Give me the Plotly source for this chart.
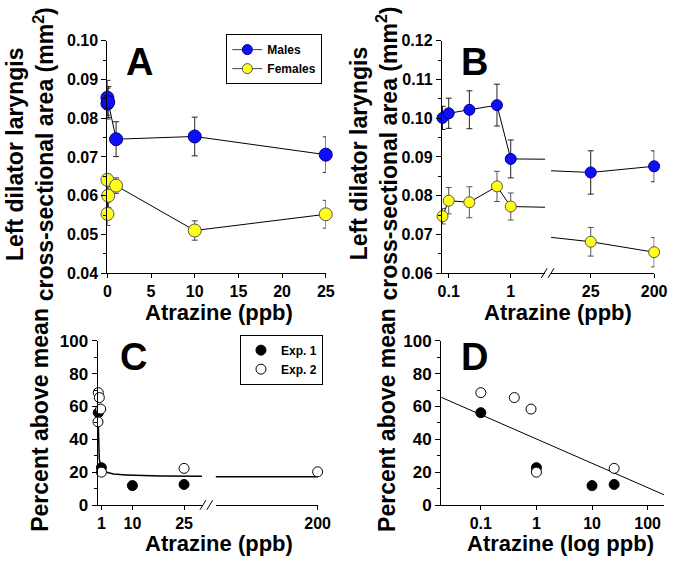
import numpy as np
import plotly.graph_objects as go

# ---------------- data ----------------
# Panel A (linear dose axis)
A_DOSE = [0, 0.01, 0.1, 1, 10, 25]
A_MALE = [0.0853, 0.0838, 0.0842, 0.0746, 0.0753, 0.0706]
A_MALE_ERR = [0.0045, 0.004, 0.004, 0.0045, 0.005, 0.0046]
A_FEMALE = [0.0641, 0.0553, 0.0600, 0.0626, 0.0510, 0.0552]
A_FEMALE_ERR = [0.0015, 0.003, 0.003, 0.002, 0.0025, 0.0036]

# Panel B (broken dose axis)
B_DOSE = [0.01, 0.1, 0.4, 0.8, 1, 25, 200]
B_MALE = [0.1001, 0.1013, 0.1022, 0.1034, 0.0895, 0.0860, 0.0876]
B_MALE_ERR = [0.003, 0.0039, 0.0049, 0.0054, 0.0049, 0.0056, 0.0040]
B_FEMALE = [0.0747, 0.0787, 0.0783, 0.0824, 0.0772, 0.0681, 0.0654]
B_FEMALE_ERR = [0.002, 0.0034, 0.0040, 0.0039, 0.0035, 0.0037, 0.0038]
B_BREAK = (1.5, 22)

# Panels C & D
EXP1_DOSE = [0.1, 1, 10, 25]
EXP1_PCT = [56.2, 22.7, 11.8, 12.5]
EXP2_DOSE = [0.01, 0.1, 0.4, 0.8, 1, 25, 200]
EXP2_PCT = [50.6, 68.4, 65.4, 58.4, 20.0, 22.3, 20.2]
C_FIT = (17.0, 5.57, 0.707)      # y = c + a * x^-p  (fitted curve)
D_FIT = (40.2, -14.8)            # y = b0 + b1 * log10(x)

# ---------------- helpers ----------------
W, H = 683, 564
FONT = "Liberation Sans, Arial, Helvetica, sans-serif"


def fx(p):
    return p / W


def fy(p):
    return 1 - p / H


BLUE = "#0d0dff"
YELLOW = "#ffff19"

fig = go.Figure()

# ---------- Panel A ----------
fig.add_trace(go.Scatter(
    x=A_DOSE, y=A_MALE, mode="lines+markers", name="Males",
    xaxis="x", yaxis="y", showlegend=False, cliponaxis=False,
    line=dict(color="black", width=1),
    marker=dict(color=BLUE, size=13, line=dict(color="#000080", width=1)),
    error_y=dict(type="data", array=A_MALE_ERR, color="#222", thickness=1, width=3)))
fig.add_trace(go.Scatter(
    x=A_DOSE, y=A_FEMALE, mode="lines+markers", name="Females",
    xaxis="x", yaxis="y", showlegend=False, cliponaxis=False,
    line=dict(color="black", width=1),
    marker=dict(color=YELLOW, size=13, line=dict(color="#555", width=1)),
    error_y=dict(type="data", array=A_FEMALE_ERR, color="#444", thickness=1, width=3)))
# legend entries (no data)
fig.add_trace(go.Scatter(x=[None], y=[None], mode="lines+markers", name="Males",
                         xaxis="x", yaxis="y", legend="legend",
                         line=dict(color="#444", width=1),
                         marker=dict(color=BLUE, size=10, line=dict(color="#000080", width=1))))
fig.add_trace(go.Scatter(x=[None], y=[None], mode="lines+markers", name="Females",
                         xaxis="x", yaxis="y", legend="legend",
                         line=dict(color="#444", width=1),
                         marker=dict(color=YELLOW, size=10, line=dict(color="#555", width=1))))

# ---------- Panel B ----------
B_LEFT_RANGE = [0, B_BREAK[0]]
B_RIGHT_RANGE = [-84.6, 200.8]
lo = [i for i, d in enumerate(B_DOSE) if d <= 1]
hi = [i for i, d in enumerate(B_DOSE) if d > 1]


def interp(vals, at):
    i0, i1 = lo[-1], hi[0]
    d0, d1 = B_DOSE[i0], B_DOSE[i1]
    return vals[i0] + (vals[i1] - vals[i0]) * (at - d0) / (d1 - d0)


for vals, errs, col, ecol, lcol in [
        (B_MALE, B_MALE_ERR, BLUE, "#222", "#000080"),
        (B_FEMALE, B_FEMALE_ERR, YELLOW, "#555", "#555")]:
    # connectors across the axis break
    fig.add_trace(go.Scatter(
        x=[B_DOSE[lo[-1]], B_BREAK[0]], y=[vals[lo[-1]], interp(vals, B_BREAK[0])],
        mode="lines", xaxis="x2", yaxis="y2", showlegend=False,
        line=dict(color="black", width=1), hoverinfo="skip"))
    fig.add_trace(go.Scatter(
        x=[B_RIGHT_RANGE[0], B_DOSE[hi[0]]], y=[interp(vals, B_BREAK[1]), vals[hi[0]]],
        mode="lines", xaxis="x3", yaxis="y3", showlegend=False,
        line=dict(color="black", width=1), hoverinfo="skip"))
    fig.add_trace(go.Scatter(
        x=[B_DOSE[i] for i in lo], y=[vals[i] for i in lo], mode="lines+markers",
        xaxis="x2", yaxis="y2", showlegend=False, cliponaxis=False,
        line=dict(color="black", width=1),
        marker=dict(color=col, size=11, line=dict(color=lcol, width=1)),
        error_y=dict(type="data", array=[errs[i] for i in lo], color=ecol, thickness=1, width=3)))
    fig.add_trace(go.Scatter(
        x=[B_DOSE[i] for i in hi], y=[vals[i] for i in hi], mode="lines+markers",
        xaxis="x3", yaxis="y3", showlegend=False, cliponaxis=False,
        line=dict(color="black", width=1),
        marker=dict(color=col, size=11, line=dict(color=lcol, width=1)),
        error_y=dict(type="data", array=[errs[i] for i in hi], color=ecol, thickness=1, width=3)))

# ---------- Panel C ----------
C_LEFT_RANGE = [-0.1, 30.2]
C_RIGHT_RANGE = [170.4, 200.1]
c0, a, p = C_FIT
xl = np.geomspace(0.08, C_LEFT_RANGE[1], 200)
xr = np.linspace(C_RIGHT_RANGE[0], C_RIGHT_RANGE[1], 20)
fig.add_trace(go.Scatter(x=xl, y=c0 + a * xl ** -p, mode="lines", xaxis="x4", yaxis="y4",
                         showlegend=False, line=dict(color="black", width=1.5), hoverinfo="skip"))
fig.add_trace(go.Scatter(x=xr, y=c0 + a * xr ** -p, mode="lines", xaxis="x5", yaxis="y5",
                         showlegend=False, line=dict(color="black", width=1.5), hoverinfo="skip"))

MK1 = dict(color="black", size=10, line=dict(color="black", width=1))
MK2 = dict(color="white", size=10, line=dict(color="black", width=1))
fig.add_trace(go.Scatter(x=EXP1_DOSE, y=EXP1_PCT, mode="markers", name="Exp. 1",
                         xaxis="x4", yaxis="y4", legend="legend2", cliponaxis=False, marker=MK1))
e2l = [i for i, d in enumerate(EXP2_DOSE) if d <= C_LEFT_RANGE[1]]
e2r = [i for i, d in enumerate(EXP2_DOSE) if d > C_LEFT_RANGE[1]]
fig.add_trace(go.Scatter(x=[EXP2_DOSE[i] for i in e2l], y=[EXP2_PCT[i] for i in e2l],
                         mode="markers", name="Exp. 2", xaxis="x4", yaxis="y4",
                         legend="legend2", cliponaxis=False, marker=MK2))
fig.add_trace(go.Scatter(x=[EXP2_DOSE[i] for i in e2r], y=[EXP2_PCT[i] for i in e2r],
                         mode="markers", xaxis="x5", yaxis="y5", showlegend=False,
                         cliponaxis=False, marker=MK2))

# ---------- Panel D ----------
D_RANGE = [-1.714, 2.301]
lo_d = 10 ** D_RANGE[0]
b0, b1 = D_FIT
fig.add_trace(go.Scatter(x=[10 ** D_RANGE[0], 10 ** D_RANGE[1]],
                         y=[b0 + b1 * D_RANGE[0], b0 + b1 * D_RANGE[1]],
                         mode="lines", xaxis="x6", yaxis="y6", showlegend=False,
                         line=dict(color="black", width=1), hoverinfo="skip"))
fig.add_trace(go.Scatter(x=[d for d in EXP1_DOSE if d >= lo_d],
                         y=[v for d, v in zip(EXP1_DOSE, EXP1_PCT) if d >= lo_d],
                         mode="markers", xaxis="x6", yaxis="y6", showlegend=False,
                         cliponaxis=False, marker=MK1))
fig.add_trace(go.Scatter(x=[d for d in EXP2_DOSE if d >= lo_d],
                         y=[v for d, v in zip(EXP2_DOSE, EXP2_PCT) if d >= lo_d],
                         mode="markers", xaxis="x6", yaxis="y6", showlegend=False,
                         cliponaxis=False, marker=MK2))

# ---------------- axes ----------------
TICKF = dict(family=FONT, size=16, color="black", weight="bold")
base = dict(showline=True, linecolor="black", linewidth=1, ticks="outside", ticklen=5,
            tickcolor="black", showgrid=False, zeroline=False)
basex = dict(base, ticklen=4)

YA = [fy(273.3), fy(33)]
YC = [fy(513.3), fy(343.3)]
minor_ab = dict(dtick=0.005, ticks="outside", ticklen=3, tickcolor="black", showgrid=False)
minor_cd = dict(dtick=10, ticks="outside", ticklen=3, tickcolor="black", showgrid=False)

fig.update_layout(
    xaxis=dict(basex, domain=[fx(106), fx(330)], range=[0, 25], anchor="y",
               tickvals=[0, 5, 10, 15, 20, 25], tickfont=TICKF),
    yaxis=dict(base, domain=YA, range=[0.04, 0.10], anchor="x", dtick=0.01,
               tickformat=".2f", tickfont=TICKF, minor=minor_ab),
    xaxis2=dict(basex, domain=[fx(449), fx(555)], range=B_LEFT_RANGE, anchor="y2",
                tickvals=[0.1, 1], ticktext=["0.1", "1"], tickfont=TICKF),
    yaxis2=dict(base, domain=YA, range=[0.06, 0.12], anchor="x2", dtick=0.01,
                tickformat=".2f", tickfont=TICKF, minor=minor_ab),
    xaxis3=dict(basex, domain=[fx(561), fx(667)], range=B_RIGHT_RANGE, anchor="y3",
                tickvals=[25, 200], tickfont=TICKF),
    yaxis3=dict(domain=YA, range=[0.06, 0.12], anchor="x3", visible=False),
    xaxis4=dict(basex, domain=[fx(96), fx(203)], range=C_LEFT_RANGE, anchor="y4",
                tickvals=[1, 10, 25], tickfont=TICKF),
    yaxis4=dict(base, domain=YC, range=[0, 100], anchor="x4", dtick=20,
                tickfont=dict(TICKF, size=17), minor=minor_cd),
    xaxis5=dict(basex, domain=[fx(217), fx(322)], range=C_RIGHT_RANGE, anchor="y5",
                tickvals=[200], tickfont=TICKF),
    yaxis5=dict(domain=YC, range=[0, 100], anchor="x5", visible=False),
    xaxis6=dict(basex, type="log", domain=[fx(448.3), fx(677.2)], range=D_RANGE, anchor="y6",
                tickvals=[0.1, 1, 10, 100], ticktext=["0.1", "1", "10", "100"], tickfont=TICKF),
    yaxis6=dict(base, domain=YC, range=[0, 100], anchor="x6", dtick=20,
                tickfont=dict(TICKF, size=17), minor=minor_cd),
)

# ---------------- legends ----------------
LEGF = dict(family=FONT, size=12, color="black", weight="bold")
fig.update_layout(
    legend=dict(x=fx(228), y=fy(26), xanchor="left", yanchor="top", bgcolor="white",
                bordercolor="black", borderwidth=1, font=LEGF, tracegroupgap=0),
    legend2=dict(x=fx(242), y=fy(337), xanchor="left", yanchor="top", bgcolor="white",
                 bordercolor="black", borderwidth=1, font=LEGF, tracegroupgap=0),
)

# ---------------- text ----------------
anns = []
TY = dict(family=FONT, size=23, color="black", weight="bold")
TXT = dict(family=FONT, size=22, color="black", weight="bold")
for (x, y, t, ang, f) in [
        (27, 150, "Left dilator laryngis<br>cross-sectional area (mm<sup>2</sup>)", -90, TY),
        (379, 150, "Left dilator laryngis<br>cross-sectional area (mm<sup>2</sup>)", -90, TY),
        (37, 425, "Percent above mean", -90, TY),
        (392, 425, "Percent above mean", -90, TY),
        (220, 314, "Atrazine (ppb)", 0, TXT),
        (568, 314, "Atrazine (ppb)", 0, TXT),
        (220, 553, "Atrazine (ppb)", 0, TXT),
        (571, 553, "Atrazine (log ppb)", 0, TXT)]:
    anns.append(dict(x=fx(x), y=fy(y), xref="paper", yref="paper", text=t, textangle=ang,
                     showarrow=False, font=f, xanchor="center", yanchor="middle",
                     borderpad=0))
for (x, y, t) in [(139, 55, "A"), (482, 55, "B"), (133, 360, "C"), (483, 360, "D")]:
    anns.append(dict(x=fx(x), y=fy(y), xref="paper", yref="paper", text=t, showarrow=False,
                     font=dict(family=FONT, size=38, color="black", weight="bold"),
                     xanchor="center", yanchor="middle"))

# axis-break marks
shapes = []
for (x0, yb) in [(551, 273.3), (201, 513.3)]:
    for dx in (0, 7):
        shapes.append(dict(type="line", xref="paper", yref="paper",
                           x0=fx(x0 + dx), y0=fy(yb + 5), x1=fx(x0 + dx + 6), y1=fy(yb - 5),
                           line=dict(color="black", width=1)))

fig.update_layout(
    width=W, height=H, margin=dict(l=0, r=0, t=0, b=0),
    paper_bgcolor="white", plot_bgcolor="white",
    annotations=anns, shapes=shapes, font=dict(family=FONT, color="black"),
)

fig.write_html("out.html", config={"displayModeBar": False},
               post_script="document.body.style.margin='0px';"
                           "document.body.style.overflow='hidden';")
